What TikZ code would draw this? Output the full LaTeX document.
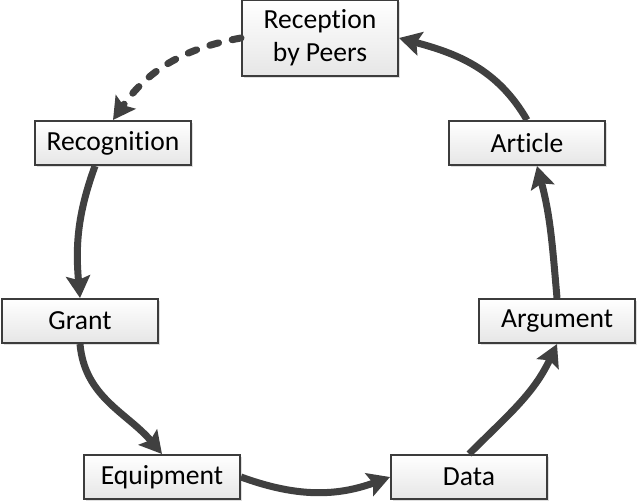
\documentclass[tikz,border=0pt]{standalone}
\usepackage{fontspec}
\setmainfont{Carlito}[Ligatures=NoCommon]
\usepackage{xcolor}
\definecolor{arrowgray}{HTML}{404040}
\definecolor{boxline}{HTML}{3C3C3C}
\definecolor{boxlow}{HTML}{E6E6E6}
\usepackage{tikz}
\usetikzlibrary{arrows.meta, positioning, shadows}

\begin{document}
\begin{tikzpicture}[x=0.5pt, y=-0.5pt]
  \tikzstyle{stage}=[rectangle, minimum width=78pt, minimum height=22pt,
    inner sep=0pt, align=center, draw=boxline, line width=1pt,
    top color=white, bottom color=boxlow,
    drop shadow={shadow xshift=1pt, shadow yshift=-1pt, opacity=0.25},
    font=\fontsize{13.8}{16.5}\selectfont]
  \tikzstyle{cyc}=[-{Stealth[length=11pt, width=12pt, inset=2pt]},
    line width=3.5pt, color=arrowgray]
  \tikzstyle{cycdash}=[cyc, line cap=round, dash pattern=on 4.5pt off 7pt]
  \useasboundingbox (0,0) rectangle (640,503);
  \node[stage, minimum height=38pt] (reception) at (320,38) {Reception\\by Peers};
  \node[stage] (recognition) at (113,143) {Recognition};
  \node[stage] (article) at (527,143) {Article};
  \node[stage] (grant) at (80,321) {Grant};
  \node[stage] (argument) at (557,321) {Argument};
  \node[stage] (equipment) at (162,477) {Equipment};
  \node[stage] (data) at (469,477) {Data};
  \draw[cyc] ([xshift=-9pt]recognition.south) to[out=-110, in=95] (grant.north);
  \draw[cyc] (grant.south) to[out=-85, in=130] (equipment.north);
  \draw[cyc] (equipment.east) to[out=-20, in=-160] (data.west);
  \draw[cyc] (data.north) to[out=45, in=-115] (argument.south);
  \draw[cyc] (argument.north) to[out=95, in=-75] ([xshift=5pt]article.south);
  \draw[cyc] (article.north) to[out=120, in=-15] (reception.east);
  \draw[cycdash] (reception.west) to[out=190, in=55] (recognition.north);
\end{tikzpicture}
\end{document}
